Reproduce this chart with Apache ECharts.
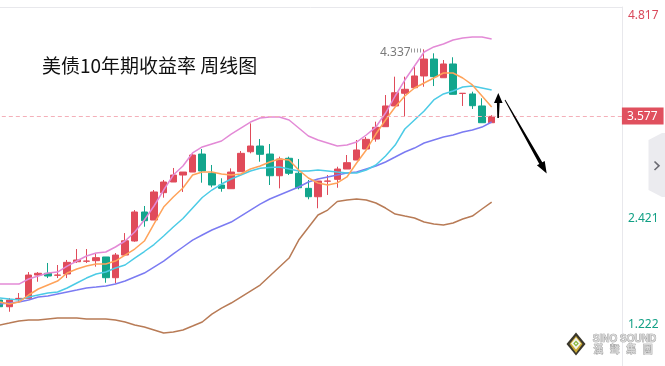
<!DOCTYPE html>
<html>
<head>
<meta charset="utf-8">
<script src="https://cdn.jsdelivr.net/npm/echarts@6/dist/echarts.min.js"></script>
<style>
html,body{margin:0;padding:0;background:#fff;}
#chart{width:665px;height:366px;}
</style>
</head>
<body>
<div id="chart"></div>
<script>
// weekly categories (52 drawn weeks + empty future slots)
const categories = [
 '2021-12-13','2021-12-20','2021-12-27','2022-01-03','2022-01-10','2022-01-17','2022-01-24','2022-01-31',
 '2022-02-07','2022-02-14','2022-02-21','2022-02-28','2022-03-07','2022-03-14','2022-03-21','2022-03-28',
 '2022-04-04','2022-04-11','2022-04-18','2022-04-25','2022-05-02','2022-05-09','2022-05-16','2022-05-23',
 '2022-05-30','2022-06-06','2022-06-13','2022-06-20','2022-06-27','2022-07-04','2022-07-11','2022-07-18',
 '2022-07-25','2022-08-01','2022-08-08','2022-08-15','2022-08-22','2022-08-29','2022-09-05','2022-09-12',
 '2022-09-19','2022-09-26','2022-10-03','2022-10-10','2022-10-17','2022-10-24','2022-10-31','2022-11-07',
 '2022-11-14','2022-11-21','2022-11-28','2022-12-05',
 '2022-12-12','2022-12-19','2022-12-26','2023-01-02','2023-01-09','2023-01-16','2023-01-23','2023-01-30',
 '2023-02-06','2023-02-13','2023-02-20','2023-02-27','2023-03-06'
];

const openVals = [1.495,1.419,1.511,1.514,1.778,1.798,1.776,1.790,1.929,1.935,
 1.941,1.983,1.748,2.005,2.164,2.493,2.402,2.712,2.833,2.912,
 2.946,3.150,2.932,2.799,2.757,2.950,3.176,3.241,3.150,2.904,
 3.102,2.932,2.761,2.666,2.842,2.863,2.980,3.082,3.207,3.320,
 3.460,3.695,3.839,3.902,4.035,4.227,4.015,4.171,3.837,3.831,
 3.695,3.505];
const closeVals = [1.419,1.495,1.514,1.778,1.798,1.767,1.778,1.922,1.949,1.937,
 1.975,1.748,2.005,2.167,2.493,2.394,2.720,2.833,2.912,2.946,
 3.139,2.958,2.799,2.761,2.946,3.158,3.241,3.147,2.904,3.094,
 2.932,2.768,2.666,2.844,2.844,2.980,3.052,3.196,3.317,3.453,
 3.695,3.845,3.884,4.035,4.227,4.027,4.171,3.827,3.839,3.698,
 3.505,3.577];
const lowVals = [1.382,1.362,1.461,1.514,1.702,1.744,1.744,1.744,1.915,1.915,
 1.873,1.691,1.684,2.005,2.156,2.326,2.402,2.655,2.833,2.720,
 2.946,2.825,2.773,2.723,2.757,2.950,3.158,3.063,2.799,2.761,
 2.912,2.750,2.637,2.535,2.686,2.768,2.980,3.082,3.207,3.290,
 3.460,3.695,3.573,3.902,3.913,3.921,4.015,3.827,3.695,3.661,
 3.505,3.505];
const highVals = [1.518,1.518,1.574,1.812,1.812,1.915,1.892,1.949,2.073,2.073,
 2.028,1.983,2.028,2.254,2.515,2.561,2.742,2.856,2.992,2.946,
 3.158,3.207,3.026,2.875,2.988,3.184,3.498,3.320,3.264,3.120,
 3.120,3.094,2.856,2.844,2.912,3.006,3.139,3.309,3.343,3.517,
 3.819,4.027,4.027,4.148,4.337,4.292,4.216,4.247,3.839,3.857,
 3.782,3.590];

const ma5 = [1.472,1.450,1.472,1.552,1.620,1.665,1.710,1.801,1.847,1.880,
 1.903,1.903,1.937,2.005,2.073,2.164,2.357,2.549,2.663,2.765,
 2.912,2.946,2.946,2.924,2.912,2.924,2.980,3.014,3.060,3.094,
 3.082,2.969,2.878,2.822,2.799,2.822,2.890,3.048,3.196,3.377,
 3.536,3.683,3.808,3.899,3.955,4.012,4.069,4.069,4.012,3.933,
 3.808,3.683];
const ma10 = [1.518,1.506,1.495,1.529,1.552,1.574,1.586,1.631,1.688,1.744,
 1.790,1.812,1.858,1.892,1.971,2.045,2.124,2.221,2.323,2.419,
 2.538,2.657,2.742,2.810,2.867,2.912,2.958,2.988,2.997,3.003,
 2.980,2.958,2.958,2.969,2.958,2.946,2.935,2.935,2.969,3.026,
 3.128,3.252,3.434,3.536,3.638,3.763,3.831,3.865,3.910,3.921,
 3.899,3.876];
const ma20 = [1.450,1.461,1.472,1.495,1.529,1.540,1.563,1.586,1.608,1.631,
 1.642,1.654,1.676,1.710,1.756,1.801,1.869,1.937,2.017,2.096,
 2.175,2.232,2.289,2.334,2.379,2.447,2.515,2.583,2.640,2.686,
 2.731,2.776,2.833,2.867,2.890,2.912,2.935,2.946,2.980,3.014,
 3.060,3.116,3.173,3.218,3.275,3.309,3.343,3.366,3.400,3.422,
 3.456,3.513];
const bollUpper = [1.676,1.676,1.676,1.733,1.767,1.801,1.812,1.880,1.937,1.994,
 2.028,2.039,2.096,2.164,2.266,2.402,2.561,2.742,2.912,3.014,
 3.162,3.230,3.264,3.298,3.377,3.445,3.513,3.558,3.570,3.570,
 3.536,3.445,3.354,3.309,3.275,3.241,3.252,3.286,3.366,3.456,
 3.615,3.808,3.989,4.148,4.307,4.364,4.398,4.443,4.466,4.477,
 4.477,4.454];
const bollLower = [1.212,1.234,1.257,1.268,1.268,1.280,1.291,1.291,1.291,1.280,
 1.280,1.280,1.268,1.246,1.212,1.189,1.155,1.121,1.132,1.155,
 1.200,1.246,1.336,1.404,1.461,1.529,1.597,1.665,1.767,1.869,
 1.971,2.175,2.318,2.459,2.515,2.612,2.629,2.640,2.629,2.595,
 2.538,2.470,2.447,2.425,2.379,2.357,2.345,2.368,2.413,2.447,
 2.527,2.606];

const yTickLabels = [1.222, 2.421, 4.817];
const yMax = 4.817;
const yMin = 0.747;
const titleText = '美债10年期收益率 周线图';
const highIndex = 44;
const lastClose = closeVals[closeVals.length - 1];
const logoCn = ['漢','聲','集','團'];

const RED = '#e04b5a', GREEN = '#12a58c';

const candleData = openVals.map((o, i) => [o, closeVals[i], lowVals[i], highVals[i]]);

function lineSeries(name, data, color) {
  return {
    name, type: 'line', data, symbol: 'none', smooth: false,
    lineStyle: { color, width: 1.5 }, silent: true, z: 3
  };
}

const graphic = [
  // 4.337 leader ticks
  { type: 'line', shape: { x1: 411, y1: 50.5, x2: 422, y2: 50.5 },
    style: { stroke: '#9a9a9a', lineWidth: 4, lineDash: [1, 2] }, z: 10 },
  // up arrow
  { type: 'polygon', shape: { points: [[497.3,118],[498.9,118],[499.6,103],[502.6,103],[498.3,93],[494,103],[496.9,103]] },
    style: { fill: '#000' }, z: 10 },
  // down arrow
  { type: 'polygon', shape: { points: [[505.4,99.8],[542.3,162.3],[544.7,160.9],[546.7,173.5],[536.9,165.3],[539.3,163.9],[504.6,100.2]] },
    style: { fill: '#000' }, z: 10 },
  // right side tab
  { type: 'polygon', shape: { points: [[648.5,140],[662,133],[665,133],[665,197],[662,197],[648.5,190]] },
    style: { fill: '#ebebef' }, z: 10 },
  { type: 'polyline', shape: { points: [[654.5,161.5],[659,165.8],[654.5,170]] },
    style: { stroke: '#6a6a72', lineWidth: 1.6, fill: null }, z: 11 },
  // logo diamond
  { type: 'polygon', shape: { points: [[576,332.5],[585.5,344],[576,355.5],[566.5,344]] }, style: { fill: '#3a372c' }, z: 10 },
  { type: 'polygon', shape: { points: [[576,336],[582.5,344],[576,353],[569.5,344]] }, style: { fill: '#c9a934' }, z: 11 },
  { type: 'polygon', shape: { points: [[576,337.5],[581,343.5],[576,349.5],[571,343.5]] }, style: { fill: '#f4f4ee' }, z: 12 },
  { type: 'polygon', shape: { points: [[576,340.5],[578.8,343.5],[576,346.5],[573.2,343.5]] }, style: { fill: '#86b83a' }, z: 13 },
  { type: 'polygon', shape: { points: [[576,342.3],[577.2,343.5],[576,344.7],[574.8,343.5]] }, style: { fill: '#f4f4ee' }, z: 14 },
  { type: 'text', left: 592.5, top: 334,
    style: { text: 'SINO SOUND', fontSize: 10, fontWeight: 'bold', fontFamily: 'Liberation Sans, Arial, sans-serif',
             fill: '#d6d6d6', stroke: '#8f8f8f', lineWidth: 0.7 }, z: 10 }
].concat(logoCn.map((ch, k) => ({
  type: 'text', left: 593 + k * 16.5, top: 344,
  style: { text: ch, fontSize: 10, fontWeight: 'bold', fontFamily: 'Noto Sans CJK TC, sans-serif',
           fill: '#d6d6d6', stroke: '#8f8f8f', lineWidth: 0.6 }, z: 10
})));

const chart = echarts.init(document.getElementById('chart'), null, { renderer: 'canvas' });
chart.setOption({
  animation: false,
  backgroundColor: '#fff',
  textStyle: { fontFamily: 'Noto Sans, Noto Sans CJK SC, sans-serif' },
  title: {
    text: titleText, left: 37, top: 51,
    textStyle: { fontSize: 19, fontWeight: 'normal', color: '#111', fontFamily: 'Noto Sans CJK SC, sans-serif' }
  },
  grid: { left: -5.17, right: 43.1, top: 7, bottom: 0, outerBoundsMode: 'none', containLabel: false },
  xAxis: {
    type: 'category', data: categories, position: 'top', boundaryGap: true,
    axisLine: { show: true, lineStyle: { color: '#e8e8ec' } },
    axisTick: { show: false }, axisLabel: { show: false }, splitLine: { show: false }
  },
  yAxis: {
    type: 'value', position: 'right', min: yMin, max: yMax,
    splitLine: { show: false },
    axisLine: { show: true, lineStyle: { color: '#e8e8ec' } },
    axisTick: { show: false },
    axisLabel: {
      customValues: yTickLabels,
      margin: 6, fontSize: 12, lineHeight: 18,
      formatter: v => (v >= yMax ? '\n' : '') + v.toFixed(3),
      color: v => (v >= yMax ? '#d9485a' : '#12a085')
    }
  },
  series: [
    {
      name: 'US10Y', type: 'candlestick', data: candleData, barWidth: 7, z: 2,
      itemStyle: { color: RED, color0: GREEN, borderColor: RED, borderColor0: GREEN, borderWidth: 1 },
      markLine: {
        silent: true, symbol: ['none', 'none'], animation: false,
        lineStyle: { color: '#f4b0b9', type: [4, 3], width: 1 },
        label: {
          show: true, position: 'end', distance: 0, formatter: () => lastClose.toFixed(3),
          color: '#fff', backgroundColor: '#e0505e', padding: [3, 6, 2, 5], fontSize: 12
        },
        data: [{ yAxis: lastClose }]
      },
      markPoint: {
        silent: true, symbol: 'circle', symbolSize: 1, itemStyle: { color: 'rgba(0,0,0,0)' },
        label: {
          show: true, position: 'left', distance: 13, offset: [0, 3],
          formatter: p => Number(p.value).toFixed(3), color: '#7a7a7a', fontSize: 12
        },
        data: [{ coord: [categories[highIndex], highVals[highIndex]], value: highVals[highIndex] }]
      }
    },
    lineSeries('BOLL上轨', bollUpper, '#e38ad6'),
    lineSeries('BOLL下轨', bollLower, '#b87b56'),
    lineSeries('MA20', ma20, '#7b7bf2'),
    lineSeries('MA10', ma10, '#4ccbe6'),
    lineSeries('MA5', ma5, '#ffa35a')
  ],
  graphic
});
</script>
</body>
</html>
